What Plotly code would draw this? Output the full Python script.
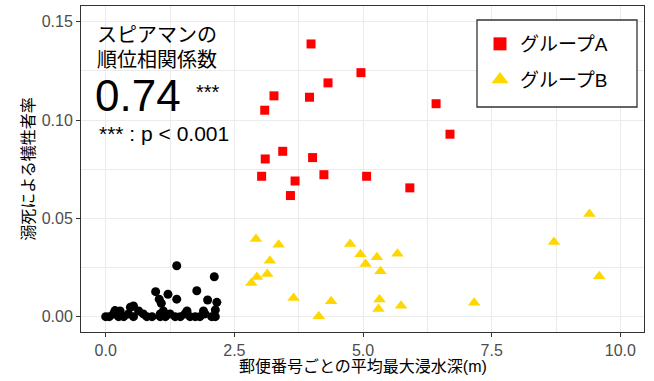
import plotly.graph_objects as go

# ---- data ----
groupA_x = [3.99, 4.96, 4.32, 3.27, 3.96, 3.09, 6.42, 6.69, 3.44, 3.10, 4.02, 3.03, 3.68, 4.24, 5.07, 5.91, 3.59]
groupA_y = [0.1387, 0.1241, 0.1189, 0.1123, 0.1116, 0.1050, 0.1083, 0.0928, 0.0841, 0.0802, 0.0809, 0.0714,
            0.0690, 0.0722, 0.0714, 0.0655, 0.0616]

groupB_x = [2.92, 3.36, 3.19, 2.94, 3.14, 2.83, 3.65, 4.14, 4.38, 4.75, 4.95, 5.05, 5.27, 5.67, 5.34, 5.32,
            5.30, 5.74, 7.16, 8.71, 9.40, 9.59]
groupB_y = [0.0395, 0.0366, 0.0285, 0.0202, 0.0217, 0.0171, 0.0095, 0.0002, 0.0078, 0.0369, 0.0317, 0.0268,
            0.0302, 0.0320, 0.0231, 0.0087, 0.0039, 0.0056, 0.0071, 0.0380, 0.0522, 0.0205]

other_x = [1.38, 2.11, 0.97, 1.21, 1.77, 1.04, 1.38, 1.98, 2.16, 1.08, 2.13, 0.54, 0.48, 0.18,
           0.00, 0.07, 0.25, 0.35, 0.54, 0.80, 0.90, 1.06, 1.16, 1.35, 1.45, 1.64, 1.74, 1.83, 2.06, 2.13,
           0.15, 0.44, 0.73, 1.06, 1.25, 1.54, 1.93,
           0.28, 0.64, 1.12, 1.58, 1.90]
other_y = [0.0259, 0.0203, 0.0127, 0.0114, 0.0132, 0.0089, 0.0089, 0.0085, 0.0073, 0.0068, 0.0034, 0.0054,
           0.0048, 0.0031,
           0.0, 0.0, 0.0, 0.0, 0.0, 0.0, 0.0, 0.0, 0.0, 0.0, 0.0, 0.0, 0.0, 0.0, 0.0, 0.0,
           0.0014, 0.0014, 0.0014, 0.0014, 0.0014, 0.0014, 0.0014,
           0.0029, 0.0029, 0.0029, 0.0029, 0.0029]

name_A = "グループA"
name_B = "グループB"
x_title = "郵便番号ごとの平均最大浸水深(m)"
y_title = "溺死による犠牲者率"
x_ticks = [0.0, 2.5, 5.0, 7.5, 10.0]
x_ticklabels = ["0.0", "2.5", "5.0", "7.5", "10.0"]
y_ticks = [0.00, 0.05, 0.10, 0.15]
y_ticklabels = ["0.00", "0.05", "0.10", "0.15"]

FONT = "Liberation Sans, Arial, Noto Sans CJK JP, sans-serif"
W, H = 654, 381
ML, MR, MT, MB = 81, 10, 6, 49
PW, PH = W - ML - MR, H - MT - MB


def px(x):
    return (x - ML) / PW


def py(y):
    return (H - MB - y) / PH


fig = go.Figure()
fig.add_trace(go.Scatter(x=other_x, y=other_y, mode="markers", showlegend=False,
                         marker=dict(color="black", size=9, symbol="circle")))
fig.add_trace(go.Scatter(x=groupA_x, y=groupA_y, mode="markers", name=name_A, legendgroup="A",
                         showlegend=False,
                         marker=dict(color="#FF0000", size=9, symbol="square")))
fig.add_trace(go.Scatter(x=groupB_x, y=groupB_y, mode="markers", name=name_B, legendgroup="B",
                         showlegend=False,
                         marker=dict(color="#FFD700", size=11, symbol="triangle-up")))
# legend entries (larger keys, as in the reference legend)
fig.add_trace(go.Scatter(x=[None], y=[None], mode="markers", name=name_A, legendgroup="A",
                         marker=dict(color="#FF0000", size=13, symbol="square")))
fig.add_trace(go.Scatter(x=[None], y=[None], mode="markers", name=name_B, legendgroup="B",
                         marker=dict(color="#FFD700", size=15, symbol="triangle-up")))

grid = "#EBEBEB"
axis_common = dict(showline=True, mirror=True, linecolor="#333333", linewidth=1,
                   ticks="outside", ticklen=4, tickcolor="#333333", tickwidth=1,
                   gridcolor=grid, gridwidth=1.3, zeroline=False, automargin=False,
                   tickfont=dict(family=FONT, size=16, color="#4D4D4D"))

fig.update_xaxes(range=[-0.48, 10.46], tickvals=x_ticks, ticktext=x_ticklabels,
                 minor=dict(showgrid=True, gridcolor=grid, gridwidth=0.8, dtick=1.25, tick0=0, ticks=""),
                 **axis_common)
fig.update_yaxes(range=[-0.0078, 0.158], tickvals=y_ticks, ticktext=y_ticklabels,
                 minor=dict(showgrid=True, gridcolor=grid, gridwidth=0.8, dtick=0.025, tick0=0, ticks=""),
                 title=dict(text=y_title, font=dict(family=FONT, size=16, color="black"), standoff=3),
                 **axis_common)

# legend frame
fig.add_shape(type="rect", xref="paper", yref="paper",
              x0=px(477), x1=px(637), y0=py(107), y1=py(20),
              line=dict(color="#333333", width=1.3), fillcolor="white", layer="above")

# x-axis title
fig.add_annotation(text=x_title, x=px((81 + 644) / 2), y=py(366), xref="paper", yref="paper",
                   xanchor="center", yanchor="middle", showarrow=False,
                   font=dict(family=FONT, size=16, color="black"))

annots = [
    dict(text="スピアマンの", x=px(95), y=py(35), size=20),
    dict(text="順位相関係数", x=px(95), y=py(60), size=20),
    dict(text="0.74", x=px(93), y=py(96), size=44),
    dict(text="***", x=px(194), y=py(92), size=20),
    dict(text="*** : p < 0.001", x=px(97), y=py(133), size=21),
]
for a in annots:
    fig.add_annotation(text=a["text"], x=a["x"], y=a["y"], xref="paper", yref="paper",
                       xanchor="left", yanchor="middle", showarrow=False,
                       font=dict(family=FONT, size=a["size"], color="black"))

fig.update_layout(
    width=W, height=H,
    margin=dict(l=ML, r=MR, t=MT, b=MB, autoexpand=False),
    paper_bgcolor="white", plot_bgcolor="white",
    font=dict(family=FONT),
    legend=dict(x=px(480), y=py(25), xanchor="left", yanchor="top",
                bgcolor="rgba(0,0,0,0)", borderwidth=0, tracegroupgap=8,
                font=dict(family=FONT, size=19, color="black")),
)

fig.write_html("out.html", config={"displayModeBar": False},
               post_script="document.body.style.margin='0px';")
